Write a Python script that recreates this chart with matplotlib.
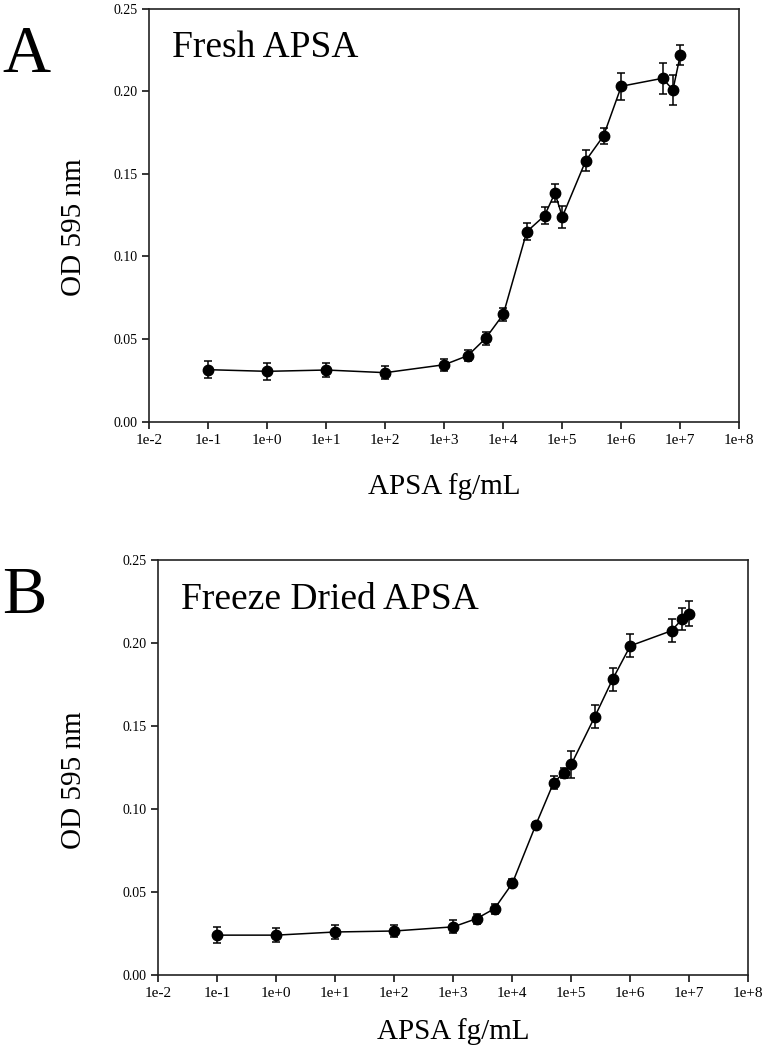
import numpy as np
import matplotlib
matplotlib.use('Agg')
import matplotlib.pyplot as plt

plt.rcParams['font.family'] = ['Liberation Serif', 'DejaVu Serif']

# concentrations (fg/mL), same for both panels
conc = [0.1, 1, 10, 100, 1e3, 2.5e3, 5e3, 1e4, 2.5e4, 5e4, 7.5e4, 1e5,
        2.5e5, 5e5, 1e6, 5e6, 7.5e6, 1e7]

# A: fresh APSA
od_fresh = [0.0315, 0.0305, 0.0313, 0.0297, 0.0345, 0.040, 0.0504, 0.065,
            0.115, 0.1247, 0.1384, 0.124, 0.158, 0.173, 0.203, 0.2078,
            0.2008, 0.222]
err_fresh = [0.005, 0.005, 0.0045, 0.004, 0.0035, 0.0035, 0.004, 0.004,
             0.005, 0.005, 0.0055, 0.0068, 0.0065, 0.005, 0.0082, 0.0093,
             0.009, 0.006]

# B: freeze dried APSA
od_dried = [0.024, 0.024, 0.0259, 0.0265, 0.029, 0.034, 0.040, 0.0552,
            0.0904, 0.1158, 0.1219, 0.1269, 0.1556, 0.1781, 0.1983, 0.2074,
            0.2143, 0.2175]
err_dried = [0.005, 0.004, 0.004, 0.0035, 0.004, 0.003, 0.003, 0.0025,
             0.002, 0.0038, 0.003, 0.0083, 0.007, 0.007, 0.007, 0.007,
             0.0067, 0.0075]

xticks = [10.0**k for k in range(-2, 9)]
xticklabels = ['1e-2', '1e-1', '1e+0', '1e+1', '1e+2', '1e+3', '1e+4',
               '1e+5', '1e+6', '1e+7', '1e+8']
yticks = [0.0, 0.05, 0.10, 0.15, 0.20, 0.25]

fig = plt.figure(figsize=(7.64, 10.57), dpi=100)
axA = fig.add_axes([0.1954, 0.6010, 0.7723, 0.3909])
axB = fig.add_axes([0.2072, 0.0776, 0.7723, 0.3926])


def panel(ax, y, err, title, letter, letter_y, ylab_y, xpad):
    ax.errorbar(conc, y, yerr=err, color='black', marker='o', markersize=7.5,
                linewidth=1.1, elinewidth=1.1, capsize=3.2, capthick=1.1)
    ax.set_xscale('log')
    ax.set_xlim(1e-2, 1e8)
    ax.set_ylim(0, 0.25)
    ax.set_xticks(xticks)
    ax.set_xticklabels(xticklabels, fontsize=11)
    ax.minorticks_off()
    ax.set_yticks(yticks)
    ax.set_yticklabels(['%.2f' % v for v in yticks], fontsize=10)
    ax.tick_params(direction='out', length=5, width=1.1, top=False, right=False)
    for s in ax.spines.values():
        s.set_linewidth(1.2)
        s.set_color('#222222')
    ax.set_xlabel('APSA fg/mL', fontsize=21, labelpad=xpad)
    ax.text(0.039, 0.883, title, transform=ax.transAxes, fontsize=27,
            ha='left', va='baseline')
    fig.text(0.003, letter_y, letter, fontsize=48, ha='left', va='baseline')
    fig.text(0.097, ylab_y, 'OD 595 nm', fontsize=21, rotation=90,
             ha='center', va='center')


panel(axA, od_fresh, err_fresh, 'Fresh APSA', 'A', 0.9319, 1 - 227.5 / 1057, 19)
panel(axB, od_dried, err_dried, 'Freeze Dried APSA', 'B', 0.4204, 1 - 780 / 1057, 13)

fig.savefig('out.png', dpi=100)
